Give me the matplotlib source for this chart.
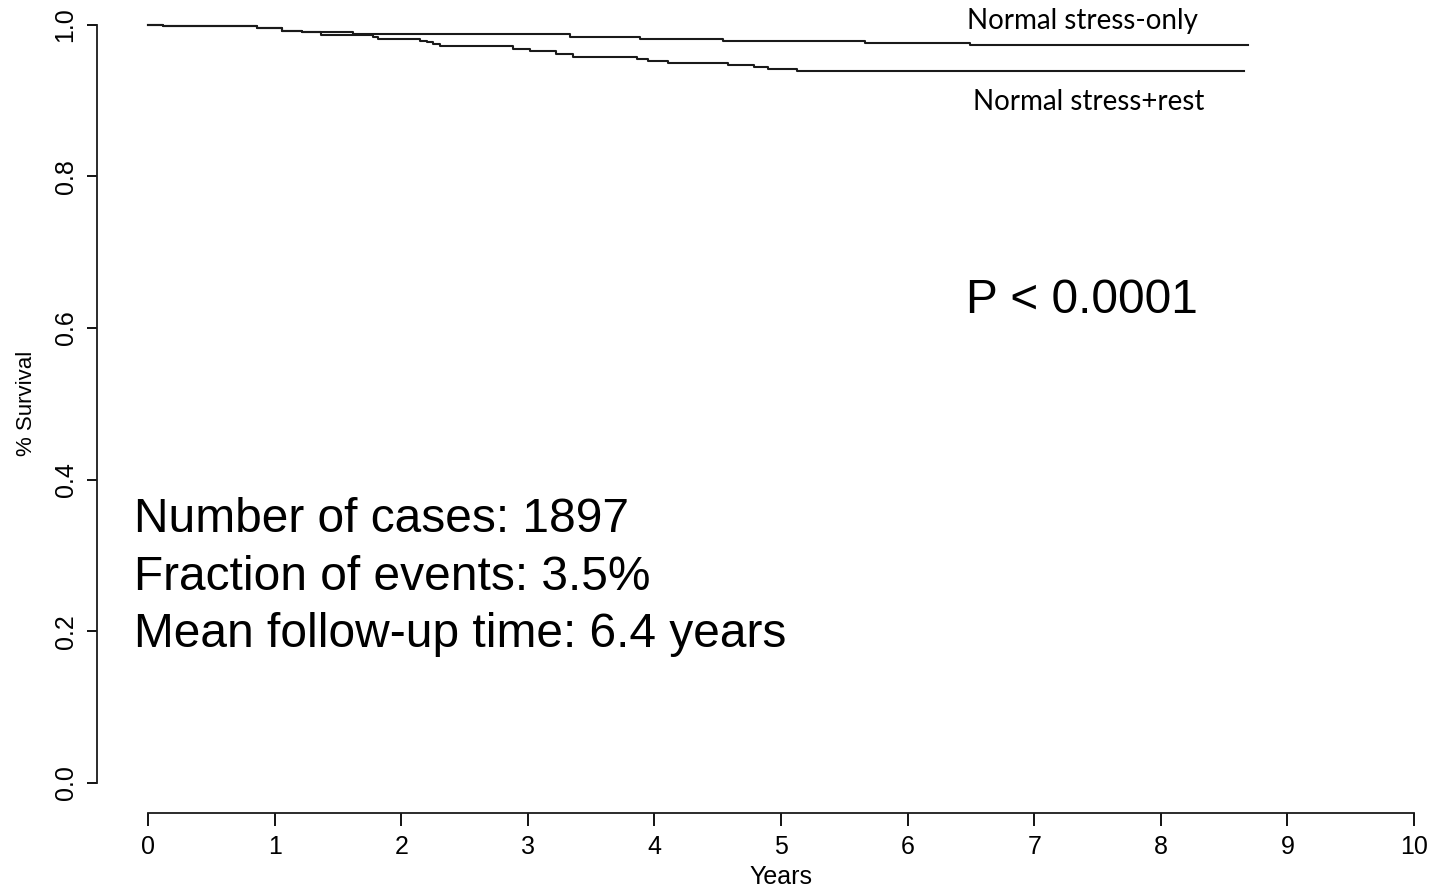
import matplotlib
matplotlib.use('Agg')
import matplotlib.pyplot as plt

# Kaplan-Meier style step curves (years, survival)
stress_only_t = [0.0, 0.12, 0.86, 1.06, 1.22, 1.62, 3.33, 3.89, 4.54, 5.66, 6.49, 8.69]
stress_only_s = [1.0, 0.998, 0.995, 0.992, 0.990, 0.988, 0.9835, 0.981, 0.978, 0.975, 0.973, 0.973]

stress_rest_t = [0.0, 0.12, 0.86, 1.06, 1.22, 1.37, 1.78, 1.82, 2.15, 2.20, 2.25, 2.31,
                 2.88, 3.02, 3.22, 3.36, 3.86, 3.95, 4.11, 4.58, 4.79, 4.90, 5.13, 8.66]
stress_rest_s = [1.0, 0.998, 0.995, 0.992, 0.990, 0.986, 0.984, 0.981, 0.9786, 0.9765, 0.9743, 0.9713,
                 0.9677, 0.965, 0.9607, 0.957, 0.9545, 0.9519, 0.9492, 0.947, 0.9444, 0.9417, 0.9387, 0.9387]

x_ticks = list(range(0, 11))
y_ticks = [0.0, 0.2, 0.4, 0.6, 0.8, 1.0]

stats_lines = ['Number of cases: 1897',
               'Fraction of events: 3.5%',
               'Mean follow-up time: 6.4 years']

W, H = 1434, 889
fig = plt.figure(figsize=(W / 100, H / 100), dpi=100)
ax = fig.add_axes([148 / W, 1 - 783 / H, (1414 - 148) / W, (783 - 24.5) / H])

ax.step(stress_only_t, stress_only_s, where='post', color='#1a1a1a', lw=1.5, clip_on=False)
ax.step(stress_rest_t, stress_rest_s, where='post', color='#1a1a1a', lw=1.5, clip_on=False)

ax.set_xlim(0, 10)
ax.set_ylim(0, 1)

# R-style detached axes
for s in ['top', 'right']:
    ax.spines[s].set_visible(False)
ax.spines['left'].set_position(('outward', 51 * 0.72))
ax.spines['bottom'].set_position(('outward', 30 * 0.72))
ax.spines['left'].set_bounds(0, 1)
ax.spines['bottom'].set_bounds(0, 10)
for s in ['left', 'bottom']:
    ax.spines[s].set_linewidth(1.3)
    ax.spines[s].set_color('#1a1a1a')

tick_font = {'family': 'Liberation Sans', 'size': 18}
ax.set_xticks(x_ticks)
ax.set_xticklabels([str(v) for v in x_ticks], fontdict=tick_font)
ax.set_yticks(y_ticks)
ax.set_yticklabels(['%.1f' % v for v in y_ticks], fontdict=tick_font,
                   rotation=90, va='center')
ax.tick_params(axis='x', length=9, width=1.3, pad=7)
ax.tick_params(axis='y', length=7, width=1.3, pad=7)

ax.set_xlabel('Years', fontdict=tick_font, va='center')
ax.xaxis.set_label_coords(0.5, -0.124)
ax.set_ylabel('% Survival', family='Liberation Sans', size=16, va='center')
ax.yaxis.set_label_coords(-0.0956, 0.5)

# curve labels
ax.text(6.47, 1.004, 'Normal stress-only', family='Lato', fontsize=20,
        ha='left', va='center', clip_on=False)
ax.text(6.52, 0.898, 'Normal stress+rest', family='Lato', fontsize=20,
        ha='left', va='center')

ax.text(6.46, 0.636, 'P < 0.0001', family='Liberation Sans', fontsize=34.5,
        ha='left', va='center')

for y, line in zip([0.347, 0.2705, 0.1954], stats_lines):
    ax.text(-0.11, y, line, family='Liberation Sans', fontsize=34.5,
            ha='left', va='center', clip_on=False)

fig.savefig('out.png', dpi=100, facecolor='white')
